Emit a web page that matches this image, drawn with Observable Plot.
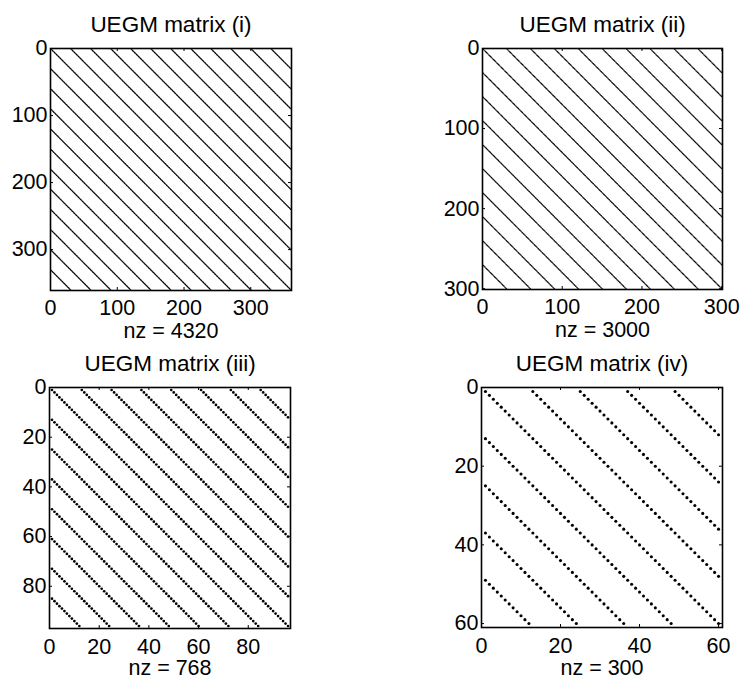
<!DOCTYPE html>
<html>
<head>
<meta charset="utf-8">
<script src="https://cdn.jsdelivr.net/npm/d3@7"></script>
<script src="https://cdn.jsdelivr.net/npm/@observablehq/plot@0.6"></script>
<style>
  html, body { margin: 0; padding: 0; background: #fff; }
  #chart { position: relative; width: 746px; height: 679px; background: #fff; overflow: hidden; }
  #chart > div { position: absolute; }
  #chart svg { overflow: visible; }
</style>
</head>
<body>
<div id="chart"></div>
<script>
// ---- data ----
const titles = ["UEGM matrix (i)", "UEGM matrix (ii)", "UEGM matrix (iii)", "UEGM matrix (iv)"];
const nzLabels = ["nz = 4320", "nz = 3000", "nz = 768", "nz = 300"];
const sizes = [360, 300, 96, 60];                       // matrix orders
const offsetsI = [0, 30, 60, 90, 120, 150, 180, 210, 240, 270, 300, 330];
const offsetsII = [0, 30, 60, 90, 120, 150, 180, 210, 240, 270];
const offsetsIII = [0, 12, 24, 36, 48, 60, 72, 84];
const offsetsIV = [0, 12, 24, 36, 48];
const ticksI = [0, 100, 200, 300];
const ticksII = [0, 100, 200, 300];
const ticksIII = [0, 20, 40, 60, 80];
const ticksIV = [0, 20, 40, 60];

// nonzero pattern of a circulant sparse matrix: row r has entries at column (r-1+offset) mod n
function pattern(n, offsets) {
  const pts = [];
  for (let r = 1; r <= n; r++) for (const off of offsets) pts.push({row: r, col: ((r - 1 + off) % n) + 1});
  return pts;
}

const FONT = "Liberation Sans, Arial, Helvetica, sans-serif";
const FS_TITLE = 22.5;
const FS = 21.5;

const panels = [
  {i: 0, offsets: offsetsI, ticks: ticksI, r: 0.7, left: 0, top: 0, w: 373, h: 350,
   m: {l: 50, r: 82, t: 48, b: 60}, pad: 9, nzdy: 41},
  {i: 1, offsets: offsetsII, ticks: ticksII, r: 0.72, left: 373, top: 0, w: 373, h: 350,
   m: {l: 109, r: 24, t: 48, b: 61}, pad: 9, nzdy: 41},
  {i: 2, offsets: offsetsIII, ticks: ticksIII, r: 1.35, left: 0, top: 340, w: 373, h: 339,
   m: {l: 49, r: 83, t: 47, b: 51}, pad: 10, nzdy: 40},
  {i: 3, offsets: offsetsIV, ticks: ticksIV, r: 1.55, left: 373, top: 340, w: 373, h: 339,
   m: {l: 108, r: 24, t: 47, b: 52}, pad: 10, nzdy: 41}
];

const root = document.getElementById("chart");
for (const p of panels) {
  const n = sizes[p.i];
  const fw = p.w - p.m.l - p.m.r;
  const fh = p.h - p.m.t - p.m.b;
  const tl = 3;
  const plot = Plot.plot({
    width: p.w,
    height: p.h,
    marginLeft: p.m.l, marginRight: p.m.r, marginTop: p.m.t, marginBottom: p.m.b,
    style: {fontFamily: FONT, fontSize: FS + "px", background: "transparent", color: "#000", overflow: "visible"},
    x: {domain: [0, n + 1], ticks: p.ticks, tickFormat: d => String(d)},
    y: {domain: [0, n + 1], reverse: true, ticks: p.ticks, tickFormat: d => String(d)},
    marks: [
      Plot.dot(pattern(n, p.offsets), {x: "col", y: "row", r: p.r, fill: "#000", stroke: "none"}),
      // inward tick marks on all four sides
      Plot.tickX(p.ticks, {x: d => d, insetTop: fh - tl, stroke: "#000", strokeWidth: 1}),
      Plot.tickX(p.ticks, {x: d => d, insetBottom: fh - tl, stroke: "#000", strokeWidth: 1}),
      Plot.tickY(p.ticks, {y: d => d, insetRight: fw - tl, stroke: "#000", strokeWidth: 1}),
      Plot.tickY(p.ticks, {y: d => d, insetLeft: fw - tl, stroke: "#000", strokeWidth: 1}),
      Plot.frame({stroke: "#000", strokeWidth: 1.6}),
      Plot.axisX({ticks: p.ticks, tickFormat: d => String(d), tickSize: 0, tickPadding: p.pad, fontSize: FS, label: null}),
      Plot.axisY({ticks: p.ticks, tickFormat: d => String(d), tickSize: 0, tickPadding: 3, fontSize: FS, label: null}),
      Plot.text([titles[p.i]], {frameAnchor: "top", lineAnchor: "middle", dy: -24, fontSize: FS_TITLE, fill: "#000"}),
      Plot.text([nzLabels[p.i]], {frameAnchor: "bottom", lineAnchor: "middle", dy: p.nzdy, fontSize: FS, fill: "#000"})
    ]
  });
  const wrap = document.createElement("div");
  wrap.style.left = p.left + "px";
  wrap.style.top = p.top + "px";
  wrap.appendChild(plot);
  root.appendChild(wrap);
}
</script>
</body>
</html>
